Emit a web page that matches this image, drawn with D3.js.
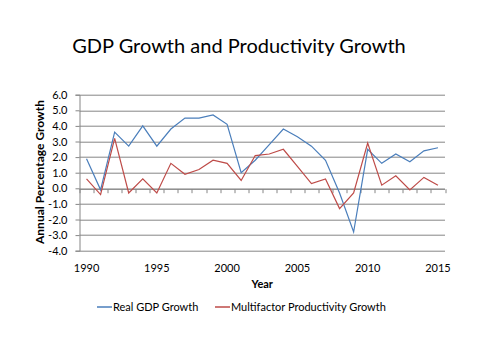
<!DOCTYPE html>
<html>
<head>
<meta charset="utf-8">
<script src="https://cdn.jsdelivr.net/npm/d3@7"></script>
<style>
  body { margin: 0; background: #fff; }
  text { font-family: Lato, "Liberation Sans", sans-serif; }
</style>
</head>
<body>
<div id="chart"></div>
<script>
// data
const years = d3.range(1990, 2016);
const realGdp = [1.9, -0.1, 3.6, 2.7, 4.0, 2.7, 3.8, 4.5, 4.5, 4.7, 4.1, 1.0, 1.8, 2.8, 3.8, 3.3, 2.7, 1.8, -0.3, -2.8, 2.5, 1.6, 2.2, 1.7, 2.4, 2.6];
const productivity = [0.6, -0.4, 3.2, -0.3, 0.6, -0.3, 1.6, 0.9, 1.2, 1.8, 1.6, 0.5, 2.1, 2.2, 2.5, 1.4, 0.3, 0.6, -1.3, -0.3, 2.9, 0.2, 0.8, -0.1, 0.7, 0.2];
const yTicks = d3.range(-4, 7);
const xLabels = [1990, 1995, 2000, 2005, 2010, 2015];
const seriesNames = ["Real GDP Growth", "Multifactor Productivity Growth"];
const seriesColors = ["#4a7ebb", "#be4b48"];

const W = 480, H = 360;
const margin = { top: 94.7, right: 35, bottom: 109.3, left: 79.5 };
const width = W - margin.left - margin.right;
const height = H - margin.top - margin.bottom;

const svg = d3.select("#chart").append("svg")
    .attr("width", W)
    .attr("height", H);

svg.append("text")
    .attr("x", 239)
    .attr("y", 53)
    .attr("text-anchor", "middle")
    .style("font-size", "20px")
    .style("fill", "#000")
    .text("GDP Growth and Productivity Growth");

const g = svg.append("g").attr("transform", `translate(${margin.left},${margin.top})`);

// category axis, one band per year
const xScale = d3.scaleBand().domain(years).range([0, width]);
const yScale = d3.scaleLinear().domain([-4, 6]).range([height, 0]);

// gridlines
g.selectAll(".grid").data(yTicks).enter().append("line")
    .attr("x1", 0).attr("x2", width)
    .attr("y1", d => Math.round(yScale(d)) + 0.5)
    .attr("y2", d => Math.round(yScale(d)) + 0.5)
    .attr("stroke", "#868686")
    .attr("stroke-width", 1);

// y axis
const fmt = d => d.toFixed(1);
const yAxis = d3.axisLeft(yScale).tickValues(yTicks).tickFormat(fmt).tickSize(4).tickPadding(8);
const yg = g.append("g").call(yAxis);
yg.select(".domain").attr("stroke", "#868686");
yg.selectAll(".tick line").attr("stroke", "#868686");
yg.selectAll(".tick text").style("font-size", "11px").style("fill", "#000")
    .style("font-family", "Lato, sans-serif");

// x axis on zero line, tick marks on band edges
const zeroY = Math.round(yScale(0)) + 0.5;
g.append("line").attr("x1", 0).attr("x2", width).attr("y1", zeroY).attr("y2", zeroY).attr("stroke", "#868686");
const edges = years.map(y => xScale(y)).concat([width]);
g.selectAll(".xtick").data(edges).enter().append("line")
    .attr("x1", d => Math.round(d) + 0.5).attr("x2", d => Math.round(d) + 0.5)
    .attr("y1", zeroY).attr("y2", zeroY + 4)
    .attr("stroke", "#868686");

g.selectAll(".xlabel").data(xLabels).enter().append("text")
    .attr("x", d => xScale(d) + xScale.bandwidth() / 2)
    .attr("y", height + 21)
    .attr("text-anchor", "middle")
    .style("font-size", "11px")
    .text(d => d);

g.append("text")
    .attr("x", width / 2)
    .attr("y", height + 37)
    .attr("text-anchor", "middle")
    .style("font-size", "11px")
    .style("font-weight", "bold")
    .text("Year");

svg.append("text")
    .attr("transform", "translate(44,172) rotate(-90)")
    .attr("text-anchor", "middle")
    .style("font-size", "12px")
    .style("font-weight", "bold")
    .text("Annual Percentage Growth");

// series lines
const line = d3.line()
    .x((d, i) => xScale(years[i]) + xScale.bandwidth() / 2)
    .y(d => yScale(d));

[realGdp, productivity].forEach((vals, k) => {
    g.append("path")
        .datum(vals)
        .attr("fill", "none")
        .attr("stroke", seriesColors[k])
        .attr("stroke-width", 1.2)
        .attr("d", line);
});

// legend
const legendX = [97, 215];
seriesNames.forEach((name, k) => {
    const lg = svg.append("g").attr("transform", `translate(${legendX[k]},307)`);
    lg.append("line").attr("x1", 0).attr("x2", 15).attr("y1", 0).attr("y2", 0)
        .attr("stroke", seriesColors[k]).attr("stroke-width", 1.5);
    lg.append("text").attr("x", 16).attr("y", 4).style("font-size", "11px").text(name);
});
</script>
</body>
</html>
